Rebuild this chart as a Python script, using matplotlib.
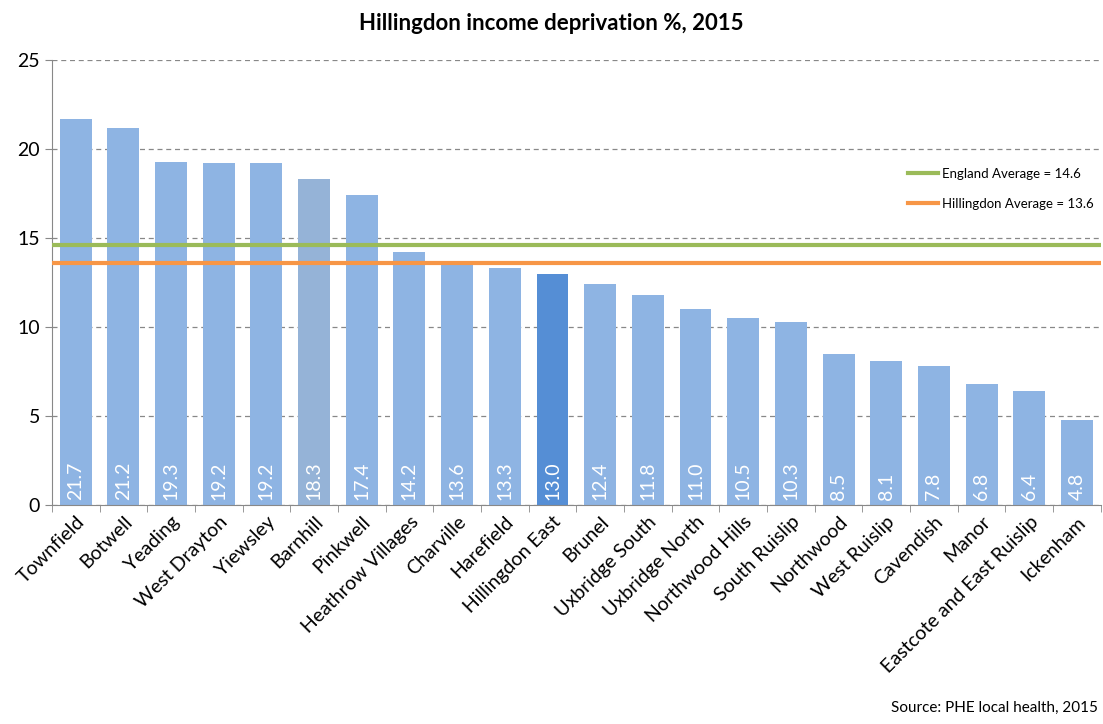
import matplotlib
matplotlib.use("Agg")
import matplotlib.pyplot as plt
import numpy as np

categories = ["Townfield", "Botwell", "Yeading", "West Drayton", "Yiewsley", "Barnhill",
              "Pinkwell", "Heathrow Villages", "Charville", "Harefield", "Hillingdon East",
              "Brunel", "Uxbridge South", "Uxbridge North", "Northwood Hills", "South Ruislip",
              "Northwood", "West Ruislip", "Cavendish", "Manor", "Eastcote and East Ruislip",
              "Ickenham"]
values = [21.7, 21.2, 19.3, 19.2, 19.2, 18.3, 17.4, 14.2, 13.6, 13.3, 13.0, 12.4, 11.8,
          11.0, 10.5, 10.3, 8.5, 8.1, 7.8, 6.8, 6.4, 4.8]
england_avg = 14.6
hillingdon_avg = 13.6

plt.rcParams['font.family'] = ['Lato', 'DejaVu Sans']

fig = plt.figure(figsize=(11.03, 7.24), dpi=100)
ax = fig.add_axes([0.047, 0.3025, 0.951, 0.6145])

colors = ['#8EB4E3'] * len(values)
colors[categories.index("Barnhill")] = '#95B3D7'
colors[categories.index("Hillingdon East")] = '#558ED5'

x = np.arange(len(categories))
ax.bar(x, values, width=0.67, color=colors, zorder=2)
ax.axhline(england_avg, color='#9BBB59', lw=3, zorder=3)
ax.axhline(hillingdon_avg, color='#F79646', lw=3, zorder=3)

for xi, v in zip(x, values):
    ax.text(xi, 0.3, f"{v:.1f}", rotation=90, ha='center', va='bottom',
            color='white', fontsize=14, zorder=4)

ax.set_xlim(-0.5, len(categories) - 0.5)
ax.set_ylim(0, 25)
ax.set_yticks([0, 5, 10, 15, 20, 25])
ax.yaxis.grid(True, linestyle=(0, (4, 3)), color='#888888', lw=0.9, zorder=0)
ax.set_axisbelow(True)

ax.set_xticks(x)
ax.set_xticklabels(categories, rotation=45, ha='right', rotation_mode='anchor', fontsize=14)
ax.tick_params(axis='x', length=0, pad=6)
ax.set_xticks(np.arange(len(categories) + 1) - 0.5, minor=True)
ax.tick_params(axis='x', which='minor', length=5, color='#888888', direction='out')
ax.tick_params(axis='y', labelsize=14, length=5, color='#888888', direction='out')

for s in ['top', 'right']:
    ax.spines[s].set_visible(False)
for s in ['left', 'bottom']:
    ax.spines[s].set_color('#888888')

ax.plot([], [], color='#9BBB59', lw=3, label=f"England Average = {england_avg}")
ax.plot([], [], color='#F79646', lw=3, label=f"Hillingdon Average = {hillingdon_avg}")
ax.legend(loc='upper right', bbox_to_anchor=(1.005, 0.785), frameon=False, fontsize=9.5,
          handlelength=2.3, labelspacing=1.4, handletextpad=0.3)

fig.text(0.5, 0.967, "Hillingdon income deprivation %, 2015", ha='center', va='center',
         fontsize=16, fontweight='bold')
fig.text(0.995, 0.012, "Source: PHE local health, 2015", ha='right', va='bottom', fontsize=11)

fig.savefig("out.png", dpi=100)
